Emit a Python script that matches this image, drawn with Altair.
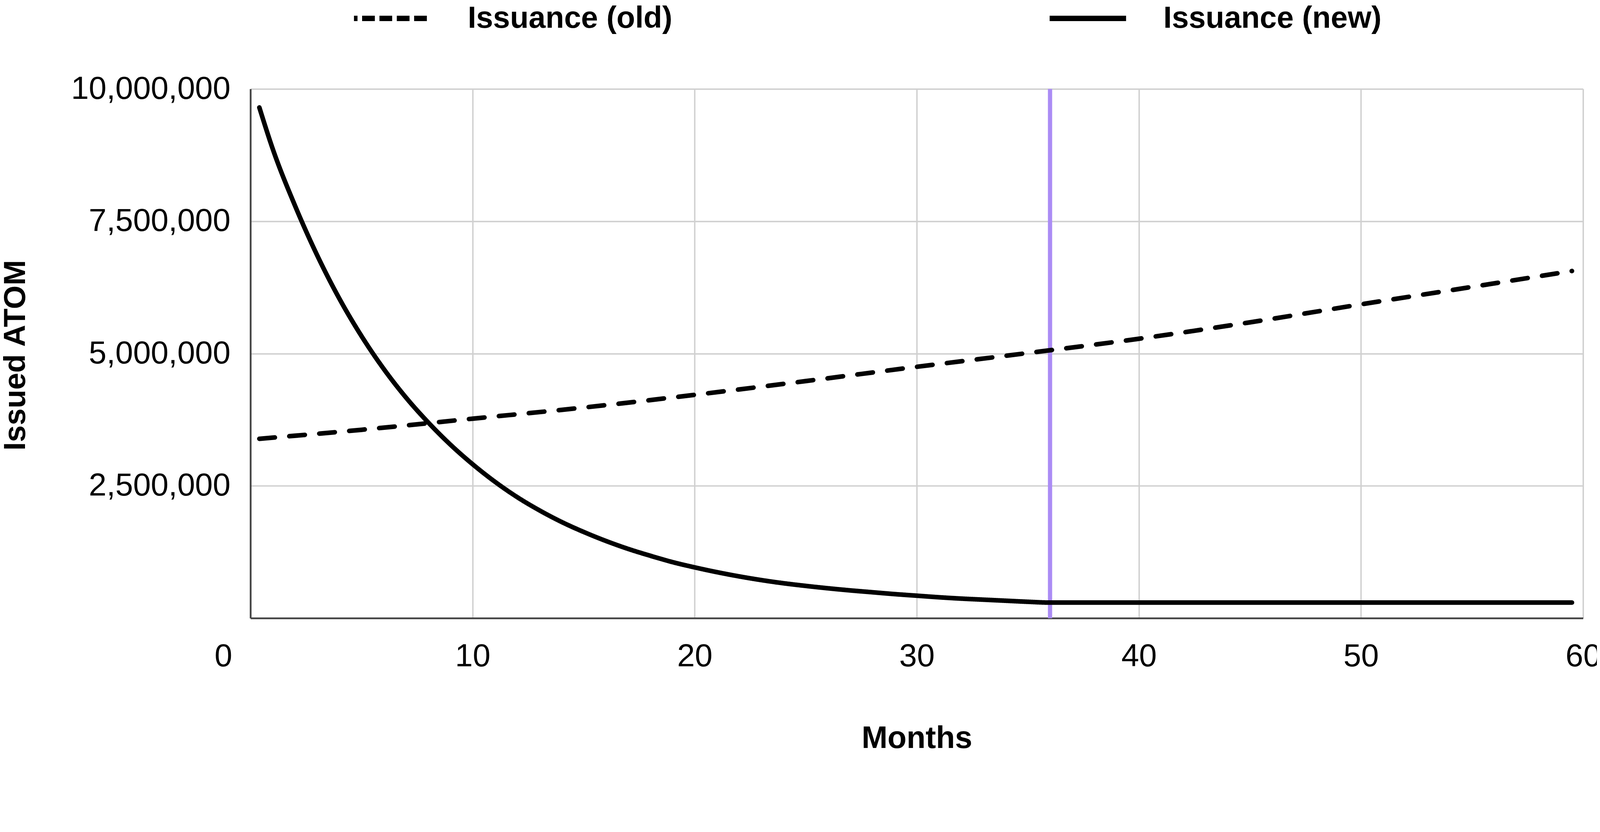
import altair as alt
import pandas as pd

# ---- data ----
series_names = ["Issuance (old)", "Issuance (new)"]

months_new = [0.4] + list(range(1, 37)) + [59.5]
issuance_new = [
    9650000, 8870000, 7800000, 6860000, 6040000, 5330000, 4710000, 4170000,
    3700000, 3280000, 2910000, 2580000, 2290000, 2040000, 1820000, 1630000,
    1460000, 1310000, 1180000, 1060000, 960000, 870000, 790000, 720000,
    660000, 610000, 565000, 525000, 490000, 455000, 425000, 395000,
    370000, 350000, 330000, 310000, 295000, 295000,
]

months_old = [0.4, 5, 10, 15, 20, 25, 30, 35, 40, 45, 50, 55, 59.5]
issuance_old = [
    3390000, 3560000, 3770000, 3980000, 4220000, 4480000, 4750000,
    5010000, 5280000, 5590000, 5930000, 6260000, 6560000,
]

vline_month = [36]
x_ticks = [0, 10, 20, 30, 40, 50, 60]
y_ticks = [2500000, 5000000, 7500000, 10000000]
x_domain = [0, 60]
y_domain = [0, 10000000]

rows = []
for m, v in zip(months_old, issuance_old):
    rows.append({"month": m, "value": v, "series": series_names[0]})
for m, v in zip(months_new, issuance_new):
    rows.append({"month": m, "value": v, "series": series_names[1]})
df = pd.DataFrame(rows)

# one point per series: feeds only the legend (a one-point line draws nothing)
legend_df = pd.DataFrame({
    "month": [months_old[0], months_new[0]],
    "value": [issuance_old[0], issuance_new[0]],
    "series": series_names,
})
vdf = pd.DataFrame({"month": vline_month})

FONT = "Liberation Sans"

x_axis = alt.Axis(
    values=x_ticks,
    format="d",
    title="Months",
    titleFont=FONT,
    titleFontSize=88,
    titleFontWeight="bold",
    titleColor="black",
    titleX=1883,
    titleY=366,
    titleAlign="center",
    titleBaseline="alphabetic",
    labelFont=FONT,
    labelFontSize=90,
    labelColor="black",
    labelPadding=64,
    labelFlush=False,
    labelOverlap=False,
    labelLimit=0,
    labelOffset={"condition": {"test": "datum.value === 0", "value": -77}, "value": 0},
    ticks=False,
    tickSize=0,
    domainColor="#444444",
    domainWidth=5,
    grid=True,
    gridColor="#d0d0d0",
    gridWidth=4,
)

y_axis = alt.Axis(
    values=y_ticks,
    format=",d",
    title="Issued ATOM",
    titleFont=FONT,
    titleFontSize=86,
    titleFontWeight="bold",
    titleColor="black",
    titleAngle=270,
    titleX=-664,
    titleY=752,
    titleAlign="center",
    titleBaseline="middle",
    labelFont=FONT,
    labelFontSize=90,
    labelColor="black",
    labelPadding=57,
    labelLimit=0,
    ticks=False,
    tickSize=0,
    domainColor="#444444",
    domainWidth=5,
    grid=True,
    gridColor="#d0d0d0",
    gridWidth=4,
)


def xs():
    return alt.Scale(domain=x_domain, nice=False, zero=False)


def ys():
    return alt.Scale(domain=y_domain, nice=False)


rule = alt.Chart(vdf).mark_rule(color="#ab8cf5", strokeWidth=12).encode(
    x=alt.X("month:Q", scale=xs(), axis=None)
)

lines = alt.Chart(df).mark_line(
    color="black", strokeWidth=13, strokeCap="round", strokeJoin="round", interpolate="monotone"
).encode(
    x=alt.X("month:Q", scale=xs(), axis=x_axis),
    y=alt.Y("value:Q", scale=ys(), axis=y_axis),
    strokeDash=alt.StrokeDash(
        "series:N",
        scale=alt.Scale(domain=series_names, range=[[44, 41], [1, 0]]),
        legend=None,
    ),
    order=alt.Order("month:Q"),
)

legend_layer = alt.Chart(legend_df).mark_line(
    color="black", strokeWidth=15, strokeCap="butt"
).encode(
    x=alt.X("month:Q", scale=xs(), axis=None),
    y=alt.Y("value:Q", scale=ys(), axis=None),
    strokeDash=alt.StrokeDash(
        "series:N",
        scale=alt.Scale(domain=series_names, range=[[36, 13], [1, 0]]),
        legend=alt.Legend(
            orient="none",
            legendX=285,
            legendY=-315,
            direction="horizontal",
            title=None,
            symbolType="stroke",
            symbolSize=46656,
            symbolStrokeWidth=15,
            symbolStrokeColor="black",
            symbolDashOffset=26,
            labelFont=FONT,
            labelFontSize=86,
            labelFontWeight="bold",
            labelColor="black",
            labelOffset=98,
            labelLimit=0,
            columnPadding=1035,
        ),
    ),
)

chart = (
    alt.layer(rule, lines, legend_layer)
    .resolve_scale(x="independent", y="independent", strokeDash="independent")
    .properties(
        width=3766,
        height=1495,
        autosize=alt.AutoSizeParams(type="none"),
        padding={"left": 699, "top": 138, "right": 39, "bottom": 377},
        background="white",
    )
    .configure_view(strokeWidth=0)
)

chart.save("out.html", embed_options={"renderer": "svg", "actions": False})
